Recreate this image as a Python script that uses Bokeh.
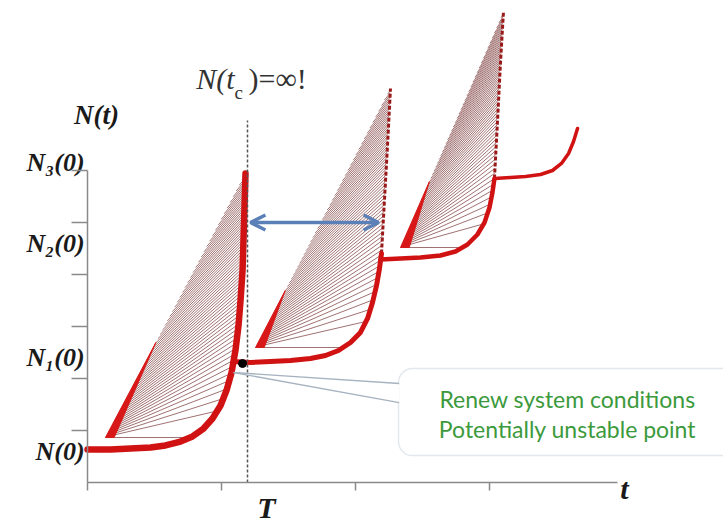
import numpy as np
from bokeh.plotting import figure
from bokeh.models import Range1d, LinearAxis, FixedTicker, Arrow, OpenHead, BoxAnnotation
from bokeh.core.properties import value
from bokeh.embed import file_html
from bokeh.resources import INLINE

# ---------------- data (time t and size N in axis-tick units) ----------------
curve1_t = [0.000, 0.172, 0.321, 0.470, 0.582, 0.694, 0.784, 0.866, 0.933, 0.993,
            1.037, 1.075, 1.104, 1.127, 1.142, 1.157, 1.164, 1.172, 1.179]
curve1_n = [0.635, 0.635, 0.654, 0.673, 0.712, 0.788, 0.885, 1.038, 1.231, 1.481,
            1.769, 2.115, 2.538, 3.019, 3.500, 4.077, 4.654, 5.327, 5.942]

curve2_t = [1.090, 1.216, 1.366, 1.515, 1.664, 1.776, 1.873, 1.963, 2.037, 2.090,
            2.127, 2.157, 2.179, 2.194]
curve2_n = [2.327, 2.308, 2.327, 2.346, 2.385, 2.442, 2.538, 2.692, 2.885, 3.154,
            3.462, 3.788, 4.115, 4.404]
edge2_t = [2.194, 2.216, 2.239, 2.261]
edge2_n = [4.404, 5.423, 6.481, 7.577]

curve3_t = [2.187, 2.336, 2.485, 2.634, 2.746, 2.836, 2.910, 2.963, 3.000, 3.022, 3.037]
curve3_n = [4.288, 4.308, 4.327, 4.365, 4.442, 4.577, 4.769, 5.000, 5.288, 5.577, 5.846]
edge3_t = [3.037, 3.060, 3.082, 3.104]
edge3_n = [5.846, 6.962, 8.077, 9.038]

curve4_t = [3.037, 3.157, 3.269, 3.381, 3.470, 3.537, 3.590, 3.627, 3.657]
curve4_n = [5.846, 5.865, 5.885, 5.923, 6.000, 6.135, 6.327, 6.558, 6.808]

# left (diagonal) edge of each fan of trajectories: [bottom, top]
diag_t = [[0.134, 1.179], [1.254, 2.261], [2.336, 3.104]]
diag_n = [[0.865, 5.942], [2.596, 7.577], [4.519, 9.038]]
wedge_frac = [0.36, 0.22, 0.28]

T_value = 1.194            # blow-up time T (dashed line)
tc_top = 6.96
renew_point = (1.157, 2.288)
arrow_t = [1.216, 2.172]
arrow_n = 5.0

x_ticks = [0, 1, 2, 3]
y_ticks = [1, 2, 3, 4, 5, 6]
y_labels = ["N₃(0)", "N₂(0)", "N₁(0)", "N(0)"]
y_label_n = [6.154, 4.596, 2.404, 0.596]

callout_lines = ["Renew system conditions", "Potentially unstable point"]
callout_box = dict(left=2.321, right=5.0, top=2.192, bottom=0.519)
pointer_t = [2.326, 1.090, 2.326]
pointer_n = [1.904, 2.115, 1.538]

# ---------------- figure ----------------
p = figure(width=723, height=525, x_range=Range1d(-0.6493, 4.7463),
           y_range=Range1d(-0.8269, 9.2692), output_backend="svg",
           toolbar_location=None, x_axis_location=None, y_axis_location=None,
           min_border=0)
p.outline_line_color = None
p.xgrid.visible = False
p.ygrid.visible = False
p.background_fill_color = "white"

AX = "#8a8a8a"
common = dict(axis_line_color=AX, axis_line_width=1.5, major_tick_line_color=AX,
              major_tick_line_width=1.5, major_tick_in=0, minor_tick_line_color=None,
              major_label_text_color=None)
xaxis = LinearAxis(fixed_location=0, bounds=(0, 3.955), ticker=FixedTicker(ticks=x_ticks),
                   major_tick_out=8, **common)
yaxis = LinearAxis(fixed_location=0, bounds=(0, 6), ticker=FixedTicker(ticks=y_ticks),
                   major_tick_out=16, **common)
p.add_layout(xaxis, "below")
p.add_layout(yaxis, "left")

# callout box (under glyphs)
box = BoxAnnotation(**callout_box, fill_color="white", fill_alpha=1.0,
                    line_color="#a7b3c1", line_width=1.5, border_radius=14, level="underlay")
p.add_layout(box)


def boundary(ts, ns, n0):
    ts = np.asarray(ts, float)
    ns = np.asarray(ns, float)
    i = int(np.argmax(ns >= n0))
    t0 = np.interp(n0, ns[i - 1:i + 1], ts[i - 1:i + 1]) if i > 0 else ts[0]
    return np.r_[t0, ts[i:]], np.r_[n0, ns[i:]]


rights = [
    (curve1_t, curve1_n),
    (curve2_t + edge2_t[1:], curve2_n + edge2_n[1:]),
    (curve3_t + edge3_t[1:], curve3_n + edge3_n[1:]),
]

K = 66
for k in range(3):
    (lt0, lt1), (ln0, ln1) = diag_t[k], diag_n[k]
    rt, rn = boundary(rights[k][0], rights[k][1], ln0)
    xs, ys = [], []
    for s in np.linspace(0, 1, K):
        a = s ** 1.45
        b = s ** 0.55
        xa, ya = lt0 + a * (lt1 - lt0), ln0 + a * (ln1 - ln0)
        nb = rn[0] + b * (rn[-1] - rn[0])
        xb = np.interp(nb, rn, rt)
        xs.append([xa, xb])
        ys.append([ya, nb])
    p.multi_line(xs, ys, line_color="#6a2020", line_width=0.75, line_alpha=0.85)
    # bright red band along the lower diagonal
    f = wedge_frac[k]
    p.patch([lt0, lt0 + f * (lt1 - lt0), lt0 + 0.065],
            [ln0, ln0 + f * (ln1 - ln0), ln0],
            fill_color="#d81818", line_color="#d81818", line_width=1)

RED = "#d01212"
p.line(edge2_t, edge2_n, line_color="#9a1a1a", line_width=3, line_dash="4 2")
p.line(edge3_t, edge3_n, line_color="#9a1a1a", line_width=3, line_dash="4 2")
p.line(curve1_t, curve1_n, line_color=RED, line_width=6.5, line_cap="round", line_join="round")
p.line(curve2_t, curve2_n, line_color=RED, line_width=5, line_cap="round", line_join="round")
p.line(curve3_t, curve3_n, line_color=RED, line_width=4.5, line_cap="round", line_join="round")
p.line(curve4_t, curve4_n, line_color=RED, line_width=3.5, line_cap="round", line_join="round")

# vertical dashed line at T
p.segment(x0=[T_value], y0=[0], x1=[T_value], y1=[tc_top], line_color="#555555",
          line_width=1.5, line_dash="3 2")

# renewal point
p.scatter([renew_point[0]], [renew_point[1]], size=8, color="black")

# callout pointer
p.patch(pointer_t, pointer_n, fill_color="white", line_color=None)
p.line(pointer_t[:2], pointer_n[:2], line_color="#a7b3c1", line_width=1.3)
p.line(pointer_t[1:], pointer_n[1:], line_color="#a7b3c1", line_width=1.3)

# blue double arrow
BLUE = "#5b80b8"
p.add_layout(Arrow(start=OpenHead(size=15, line_color=BLUE, line_width=3.5),
                   end=OpenHead(size=15, line_color=BLUE, line_width=3.5),
                   x_start=arrow_t[0], y_start=arrow_n, x_end=arrow_t[1], y_end=arrow_n,
                   line_color=BLUE, line_width=3.5))

# callout text
p.text(x=[3.582, 3.582], y=[1.615, 1.038], text=callout_lines, text_align="center",
       text_baseline="middle", text_font=value("Lato"), text_font_size="23px",
       text_color="#3c9a3c")

SERIF = value("Liberation Serif")
# y labels
p.text(x=[-0.022] * 4, y=y_label_n, text=y_labels, text_align="right", text_baseline="middle",
       text_font=SERIF, text_font_style="bold italic", text_font_size="26px", text_color="#1a1a1a")
p.text(x=[0.067], y=[7.058], text=["N(t)"], text_align="center", text_baseline="middle",
       text_font=SERIF, text_font_style="bold italic", text_font_size="27px", text_color="#1a1a1a")
# axis labels
p.text(x=[T_value], y=[-0.481], x_offset=19, text=["T"], text_align="center", text_baseline="middle",
       text_font=SERIF, text_font_style="bold italic", text_font_size="30px", text_color="#1a1a1a")
p.text(x=[4.007], y=[-0.115], text=["t"], text_align="center", text_baseline="middle",
       text_font=SERIF, text_font_style="bold italic", text_font_size="30px", text_color="#1a1a1a")

# N(t_c) = ∞!
p.text(x=[T_value], y=[7.77], x_offset=-13, text=["N(t"], text_align="right", text_baseline="middle",
       text_font=SERIF, text_font_style="italic", text_font_size="30px", text_color="#333333")
p.text(x=[T_value], y=[7.77], x_offset=-13, y_offset=14, text=["c"], text_align="left",
       text_baseline="middle", text_font=SERIF, text_font_size="19px", text_color="#333333")
p.text(x=[T_value], y=[7.77], x_offset=1, text=[")=∞!"], text_align="left", text_baseline="middle",
       text_font=SERIF, text_font_size="30px", text_color="#333333")

open("out.html", "w").write(file_html(p, INLINE))
